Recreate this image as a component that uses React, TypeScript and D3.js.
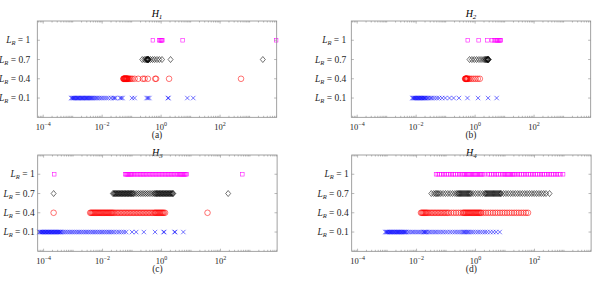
import React from "react";
import * as d3 from "d3";

// exponents (log10 of the x value), one array per row
const rowLabels = ["0.1", "0.4", "0.7", "1"];
const xTickExps = [-4, -2, 0, 2];

// H1
const h1R01 = [-3.05, -3.02, -2.99, -2.96, -2.94, -2.91, -2.88, -2.85, -2.82, -2.8, -2.77, -2.74, -2.71, -2.68, -2.66, -2.63, -2.6, -2.57, -2.54, -2.52, -2.49, -2.46, -2.43, -2.4, -2.37, -2.34, -2.3, -2.26, -2.22, -2.17, -2.12, -2.06, -2.0, -1.93, -1.86, -1.79, -1.7, -1.62, -1.58, -1.55, -1.39, -1.35, -1.31, -0.99, -0.9, -0.49, -0.45, -0.4, 0.23, 0.25, 0.89, 1.09];
const h1R04 = [-1.28, -1.27, -1.26, -1.25, -1.24, -1.23, -1.22, -1.21, -1.2, -1.19, -1.18, -1.17, -1.16, -1.15, -1.14, -1.12, -1.1, -1.07, -1.03, -0.98, -0.9, -0.78, -0.62, -0.56, -0.45, -0.2, -0.17, 0.27, 2.71];
const h1R07 = [-0.64, -0.57, -0.52, -0.5, -0.48, -0.47, -0.46, -0.45, -0.44, -0.43, -0.42, -0.36, -0.29, -0.22, -0.14, -0.06, 0.03, 0.32, 3.45];
const h1R1 = [-0.28, -0.06, -0.03, 0, 0.02, 0.04, 0.73, 3.9];

// H2
const h2R01 = [-2.13, -2.1, -2.08, -2.05, -2.03, -2.0, -1.98, -1.95, -1.93, -1.9, -1.88, -1.85, -1.83, -1.8, -1.78, -1.75, -1.73, -1.7, -1.68, -1.64, -1.6, -1.55, -1.5, -1.45, -1.38, -1.3, -1.22, -1.12, -1.01, -0.87, -0.73, -0.55, -0.26, 0.1, 0.44, 0.73];
const h2R04 = [-0.34, -0.33, -0.32, -0.31, -0.3, -0.29, -0.28, -0.27, -0.25, -0.22, -0.18, -0.12, -0.05, 0.02, 0.09, 0.16];
const h2R07 = [-0.19, -0.11, -0.03, 0.05, 0.13, 0.2, 0.27, 0.32, 0.35, 0.37, 0.39, 0.41, 0.42, 0.43, 0.44, 0.45, 0.46];
const h2R1 = [-0.25, 0.12, 0.42, 0.57, 0.64, 0.7, 0.73, 0.76, 0.79, 0.82, 0.85, 0.87];

// H3
const h3R01 = [-4.15, -4.12, -4.1, -4.07, -4.05, -4.02, -4.0, -3.97, -3.95, -3.92, -3.9, -3.87, -3.85, -3.82, -3.8, -3.77, -3.75, -3.72, -3.7, -3.67, -3.65, -3.62, -3.6, -3.57, -3.55, -3.52, -3.5, -3.47, -3.45, -3.42, -3.4, -3.34, -3.28, -3.22, -3.16, -3.1, -3.04, -2.98, -2.92, -2.86, -2.8, -2.74, -2.68, -2.62, -2.56, -2.5, -2.44, -2.38, -2.32, -2.26, -2.2, -2.14, -2.08, -2.02, -1.96, -1.9, -1.84, -1.78, -1.72, -1.66, -1.6, -1.52, -1.44, -1.36, -1.28, -1.2, -1.0, -0.86, -0.6, -0.22, 0.07, 0.09, 0.44, 0.46, 0.74];
const h3R04 = [-3.66, -2.42, -2.39, -2.36, -2.33, -2.3, -2.27, -2.24, -2.21, -2.18, -2.15, -2.12, -2.09, -2.06, -2.03, -2.0, -1.97, -1.94, -1.91, -1.88, -1.85, -1.82, -1.79, -1.76, -1.73, -1.7, -1.67, -1.64, -1.6, -1.55, -1.5, -1.45, -1.4, -1.35, -1.3, -1.25, -1.2, -1.15, -1.1, -1.05, -1.0, -0.95, -0.9, -0.85, -0.8, -0.75, -0.7, -0.65, -0.6, -0.55, -0.5, -0.45, -0.4, -0.35, -0.3, -0.25, -0.22, -0.19, -0.16, -0.13, -0.1, -0.07, -0.04, -0.01, 0.02, 0.05, 0.08, 0.12, 1.56];
const h3R07 = [-3.66, -1.65, -1.62, -1.6, -1.57, -1.55, -1.52, -1.5, -1.47, -1.45, -1.42, -1.4, -1.37, -1.35, -1.32, -1.3, -1.27, -1.25, -1.22, -1.2, -1.17, -1.15, -1.12, -1.1, -1.07, -1.05, -1.02, -1.0, -0.97, -0.95, -0.9, -0.84, -0.78, -0.72, -0.66, -0.6, -0.54, -0.48, -0.42, -0.36, -0.3, -0.25, -0.22, -0.19, -0.17, -0.14, -0.12, -0.09, -0.07, -0.04, -0.02, 0.01, 0.03, 0.06, 0.08, 0.11, 0.13, 0.16, 0.18, 0.21, 0.23, 0.26, 0.28, 0.31, 0.33, 0.36, 0.38, 0.4, 2.26];
const h3R1 = [-3.64, -1.23, -1.2, -1.17, -1.14, -1.11, -1.08, -1.05, -1.02, -0.98, -0.93, -0.88, -0.83, -0.78, -0.73, -0.68, -0.63, -0.58, -0.53, -0.48, -0.43, -0.38, -0.33, -0.28, -0.23, -0.18, -0.13, -0.08, -0.03, 0.02, 0.07, 0.12, 0.17, 0.22, 0.27, 0.32, 0.37, 0.42, 0.47, 0.52, 0.56, 0.6, 0.64, 0.67, 0.7, 0.73, 0.76, 0.79, 0.82, 0.85, 2.74];

// H4
const h4R01 = [-3.06, -3.03, -3.0, -2.98, -2.95, -2.92, -2.9, -2.87, -2.84, -2.82, -2.79, -2.76, -2.74, -2.71, -2.68, -2.66, -2.63, -2.6, -2.58, -2.55, -2.52, -2.5, -2.47, -2.44, -2.42, -2.39, -2.36, -2.31, -2.25, -2.18, -2.12, -2.05, -1.98, -1.92, -1.85, -1.78, -1.74, -1.72, -1.69, -1.65, -1.58, -1.52, -1.45, -1.38, -1.32, -1.25, -1.18, -1.1, -1.02, -0.95, -0.86, -0.78, -0.7, -0.62, -0.55, -0.48, -0.42, -0.38, -0.35, -0.3, -0.27, -0.22, -0.15, -0.08, 0.0, 0.08, 0.16, 0.24, 0.32, 0.4, 0.5, 0.6, 0.7, 0.82];
const h4R04 = [-1.85, -1.82, -1.79, -1.76, -1.73, -1.7, -1.67, -1.64, -1.6, -1.55, -1.5, -1.45, -1.4, -1.35, -1.3, -1.25, -1.2, -1.15, -1.1, -1.05, -1.0, -0.95, -0.9, -0.82, -0.74, -0.66, -0.58, -0.5, -0.43, -0.4, -0.37, -0.34, -0.31, -0.28, -0.25, -0.22, -0.19, -0.16, -0.13, -0.1, -0.07, -0.04, -0.01, 0.02, 0.05, 0.08, 0.11, 0.14, 0.17, 0.2, 0.27, 0.35, 0.43, 0.51, 0.59, 0.67, 0.75, 0.83, 0.91, 0.99, 1.07, 1.15, 1.23, 1.31, 1.39, 1.47, 1.55, 1.63, 1.71, 1.78];
const h4R07 = [-1.5, -1.42, -1.36, -1.32, -1.28, -1.24, -1.18, -1.1, -1.02, -0.94, -0.86, -0.78, -0.7, -0.64, -0.6, -0.57, -0.54, -0.51, -0.48, -0.45, -0.42, -0.39, -0.36, -0.33, -0.3, -0.27, -0.24, -0.21, -0.18, -0.15, -0.08, 0.0, 0.08, 0.16, 0.24, 0.31, 0.34, 0.37, 0.4, 0.43, 0.46, 0.49, 0.52, 0.55, 0.58, 0.61, 0.64, 0.67, 0.7, 0.73, 0.76, 0.79, 0.82, 0.85, 0.87, 0.95, 1.03, 1.11, 1.19, 1.27, 1.35, 1.43, 1.51, 1.59, 1.67, 1.75, 1.83, 1.91, 1.99, 2.07, 2.15, 2.23, 2.31, 2.39, 2.51];
const h4R1 = [-1.34, -1.28, -1.22, -1.16, -1.1, -1.04, -0.98, -0.92, -0.86, -0.8, -0.74, -0.68, -0.62, -0.56, -0.5, -0.44, -0.4, -0.36, -0.32, -0.28, -0.24, -0.2, -0.16, -0.12, -0.08, -0.04, 0.0, 0.04, 0.08, 0.12, 0.16, 0.2, 0.25, 0.3, 0.42, 0.48, 0.54, 0.6, 0.66, 0.72, 0.78, 0.84, 0.9, 0.96, 1.0, 1.04, 1.08, 1.12, 1.16, 1.2, 1.24, 1.28, 1.32, 1.38, 1.44, 1.5, 1.56, 1.62, 1.68, 1.74, 1.8, 1.86, 1.92, 1.98, 2.04, 2.1, 2.16, 2.22, 2.28, 2.34, 2.4, 2.46, 2.52, 2.58, 2.64, 2.7, 2.76, 2.82, 2.88, 2.97];

const xDomainExp: [number, number] = [-4.2, 3.92];
const rowColors = ["#0000ff", "#ff0000", "#000000", "#ff00ff"];
const rowShapes = ["cross", "circle", "diamond", "square"];

const serif = "'Liberation Serif', 'DejaVu Serif', serif";
const axisColor = "#8a8a8a";

function Marker({ shape, x, y, color }: { shape: string; x: number; y: number; color: string }) {
  const sw = 0.55;
  if (shape === "circle")
    return <circle cx={x} cy={y} r={2.8} fill="none" stroke={color} strokeWidth={sw} />;
  if (shape === "square")
    return <rect x={x - 1.8} y={y - 1.8} width={3.6} height={3.6} fill="none" stroke={color} strokeWidth={sw} />;
  if (shape === "diamond")
    return <path d={`M${x},${y - 3}L${x + 2.5},${y}L${x},${y + 3}L${x - 2.5},${y}Z`} fill="none" stroke={color} strokeWidth={sw} />;
  return <path d={`M${x - 2.2},${y - 2.2}L${x + 2.2},${y + 2.2}M${x - 2.2},${y + 2.2}L${x + 2.2},${y - 2.2}`} stroke={color} strokeWidth={sw} />;
}

type PanelProps = {
  left: number;
  top: number;
  sub: string;
  caption: string;
  rows: number[][];
  titleDy: number;
  labelGap: number;
};

function Panel({ left, top, sub, caption, rows, titleDy, labelGap }: PanelProps) {
  const w = 239.4;
  const h = 96.3;
  const x = d3.scaleLog().domain([10 ** xDomainExp[0], 10 ** xDomainExp[1]]).range([left, left + w]);
  const y = d3.scaleLinear().domain([0, 5]).range([top + h, top]);

  // log minor ticks
  const minor: { v: number; major: boolean }[] = [];
  for (let e = -5; e <= 3; e++) {
    for (let k = 1; k <= 9; k++) {
      const v = k * 10 ** e;
      if (v >= x.domain()[0] && v <= x.domain()[1]) minor.push({ v, major: k === 1 && e % 2 === 0 });
    }
  }

  return (
    <g>
      <text x={left + w / 2} y={top + titleDy} textAnchor="middle" fontFamily={serif} fontSize={10} fontStyle="italic">
        H<tspan fontSize={7} dy={2}>{sub}</tspan>
      </text>
      {rows.map((vals, i) => (
        <g key={i}>
          {vals.map((e, j) => (
            <Marker key={j} shape={rowShapes[i]} x={x(10 ** e)} y={y(i + 1)} color={rowColors[i]} />
          ))}
        </g>
      ))}
      <rect x={left} y={top} width={w} height={h} fill="none" stroke={axisColor} strokeWidth={0.8} />
      {minor.map((t, i) => {
        const len = t.major ? 2.6 : 1.5;
        const px = x(t.v);
        return (
          <g key={i} stroke={axisColor} strokeWidth={0.6}>
            <line x1={px} x2={px} y1={top + h} y2={top + h - len} />
            <line x1={px} x2={px} y1={top} y2={top + len} />
          </g>
        );
      })}
      {rowLabels.map((lab, i) => (
        <g key={i}>
          <line x1={left} x2={left + 2.6} y1={y(i + 1)} y2={y(i + 1)} stroke={axisColor} strokeWidth={0.6} />
          <line x1={left + w} x2={left + w - 2.6} y1={y(i + 1)} y2={y(i + 1)} stroke={axisColor} strokeWidth={0.6} />
          <text x={left - labelGap} y={y(i + 1) + 3} textAnchor="end" fontFamily={serif} fontSize={9.5} fill="#262626">
            <tspan fontStyle="italic">L</tspan>
            <tspan fontStyle="italic" fontSize={6.5} dy={2}>R</tspan>
            <tspan dy={-2}>{" = " + lab}</tspan>
          </text>
        </g>
      ))}
      {xTickExps.map((e) => (
        <text key={e} x={x(10 ** e)} y={top + h + 12.5} textAnchor="middle" fontFamily={serif} fontSize={8.5} fill="#262626">
          10<tspan fontSize={6} dy={-3.5}>{String(e).replace("-", "\u2212")}</tspan>
        </text>
      ))}
      <text x={left + w / 2} y={top + h + 21} textAnchor="middle" fontFamily={serif} fontSize={9.5} fill="#262626">
        {caption}
      </text>
    </g>
  );
}

export default function App() {
  return (
    <svg width={592} height={283} style={{ position: "absolute", left: 0, top: 0, background: "#fff" }}>
      <Panel left={37.3} top={21} sub="1" caption="(a)" rows={[h1R01, h1R04, h1R07, h1R1]} titleDy={-4.5} labelGap={7} />
      <Panel left={351.3} top={21} sub="2" caption="(b)" rows={[h2R01, h2R04, h2R07, h2R1]} titleDy={-4.5} labelGap={5} />
      <Panel left={37.7} top={155} sub="3" caption="(c)" rows={[h3R01, h3R04, h3R07, h3R1]} titleDy={0.5} labelGap={3} />
      <Panel left={351.7} top={155} sub="4" caption="(d)" rows={[h4R01, h4R04, h4R07, h4R1]} titleDy={0.5} labelGap={3} />
    </svg>
  );
}
